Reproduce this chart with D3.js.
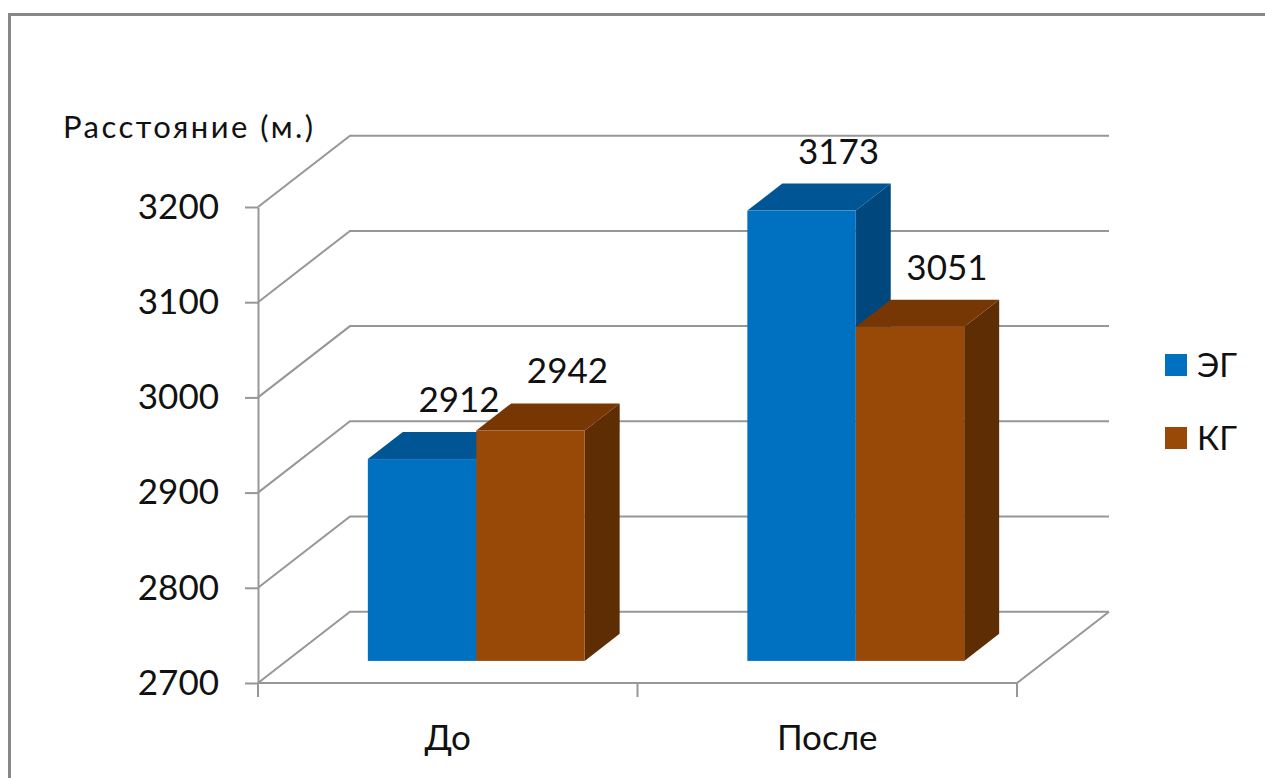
<!DOCTYPE html>
<html>
<head>
<meta charset="utf-8">
<script src="https://cdn.jsdelivr.net/npm/d3@7"></script>
<style>
  html, body { margin: 0; padding: 0; background: #fff; }
  svg { display: block; font-family: Lato, "Open Sans", sans-serif; }
</style>
</head>
<body>
<svg id="chart" width="1265" height="778"></svg>
<script>
// Data
const categories = ["До", "После"];
const seriesNames = ["ЭГ", "КГ"];
const valuesEG = [2912, 3173];
const valuesKG = [2942, 3051];
const yTicks = [2700, 2800, 2900, 3000, 3100, 3200];
const yTitle = "Расстояние (м.)";

const seriesValues = [valuesEG, valuesKG];
const faceColors = [
  { front: "#0070C0", top: "#005594", side: "#00477E" },
  { front: "#984807", top: "#773705", side: "#5F2D03" }
];

const svg = d3.select("#chart");
const W = 1265, H = 778;

// chart frame
svg.append("rect")
  .attr("x", 9.5).attr("y", 14.5)
  .attr("width", W + 20).attr("height", H + 20)
  .attr("fill", "none").attr("stroke", "#878787").attr("stroke-width", 3);

// 3D projection: depth fraction f (0 = front, 1 = back wall)
const DX = 92, DY = 71.3;
const proj = (x, y, f) => [x + f * DX, y - f * DY];

const y = d3.scaleLinear().domain([2700, 3200]).range([683, 207]);
const x0 = d3.scaleBand().domain(categories).range([258, 1017]).padding(0);
const x1 = d3.scaleBand().domain(seriesNames).range([0, x0.bandwidth()])
  .paddingInner(0).paddingOuter(0.75);

const gridColor = "#979797";

// back wall gridlines with the side-wall diagonal
const grid = svg.append("g");
yTicks.forEach(t => {
  const a = [258, y(t)];
  const b = proj(258, y(t), 1);
  const c = proj(1017, y(t), 1);
  grid.append("path")
    .attr("d", d3.line()([a, b, c]))
    .attr("fill", "none").attr("stroke", gridColor).attr("stroke-width", 2);
});

// floor front edge and right edge
const fl = y(2700);
grid.append("path")
  .attr("d", d3.line()([[258, fl], [1017, fl], proj(1017, fl, 1)]))
  .attr("fill", "none").attr("stroke", gridColor).attr("stroke-width", 2);

// category boundary ticks
const bounds = [258, x0("После"), 1017];
grid.selectAll(".ctick").data(bounds).enter().append("line")
  .attr("x1", d => d).attr("x2", d => d)
  .attr("y1", fl).attr("y2", fl + 14)
  .attr("stroke", gridColor).attr("stroke-width", 2);

// value axis
const yAxis = d3.axisLeft(y).tickValues(yTicks).tickSize(13).tickSizeOuter(0).tickPadding(26)
  .tickFormat(d3.format("d"));
const ya = svg.append("g").attr("transform", "translate(258,0)").call(yAxis);
ya.select(".domain").attr("stroke", gridColor).attr("stroke-width", 2);
ya.selectAll(".tick line").attr("stroke", gridColor).attr("stroke-width", 2);
ya.selectAll(".tick text")
  .attr("font-family", "Lato, 'Open Sans', sans-serif")
  .attr("font-size", 35).attr("fill", "#111");

// axis title
svg.append("text")
  .attr("x", 63).attr("y", 138)
  .attr("font-size", 31).attr("fill", "#111")
  .attr("textLength", 250).attr("lengthAdjust", "spacing")
  .text(yTitle);

// category labels
svg.selectAll(".cat").data(categories).enter().append("text")
  .attr("x", d => x0(d) + x0.bandwidth() / 2)
  .attr("y", 750)
  .attr("text-anchor", "middle")
  .attr("font-size", 35).attr("fill", "#111")
  .text(d => d);

// 3D bars
const F0 = 0.31, F1 = 0.69;
const bars = svg.append("g");
categories.forEach((cat, ci) => {
  seriesNames.forEach((s, si) => {
    const v = seriesValues[si][ci];
    const col = faceColors[si];
    const xl = x0(cat) + x1(s);
    const xr = xl + x1.bandwidth();
    const yb = y(2700), yt = y(v);
    const fl0 = proj(xl, yb, F0), fr0 = proj(xr, yb, F0);
    const tl0 = proj(xl, yt, F0), tr0 = proj(xr, yt, F0);
    const tl1 = proj(xl, yt, F1), tr1 = proj(xr, yt, F1);
    const br1 = proj(xr, yb, F1);
    // side
    bars.append("path").attr("d", d3.line()([fr0, tr0, tr1, br1]) + "Z").attr("fill", col.side);
    // top
    bars.append("path").attr("d", d3.line()([tl0, tr0, tr1, tl1]) + "Z").attr("fill", col.top);
    // front
    bars.append("rect")
      .attr("x", tl0[0]).attr("y", tl0[1])
      .attr("width", fr0[0] - fl0[0]).attr("height", fl0[1] - tl0[1])
      .attr("fill", col.front);
  });
});

// value labels above the bar tops
categories.forEach((cat, ci) => {
  seriesNames.forEach((s, si) => {
    const v = seriesValues[si][ci];
    const xc = x0(cat) + x1(s) + x1.bandwidth() / 2;
    const p = proj(xc, y(v), F1);
    svg.append("text")
      .attr("x", p[0] + 2).attr("y", p[1] - 20)
      .attr("text-anchor", "middle")
      .attr("font-size", 35).attr("fill", "#111")
      .text(v);
  });
});

// legend
const legend = svg.append("g");
seriesNames.forEach((s, i) => {
  const ly = 354 + i * 73;
  legend.append("rect")
    .attr("x", 1165).attr("y", ly).attr("width", 22).attr("height", 22)
    .attr("fill", faceColors[i].front);
  legend.append("text")
    .attr("x", 1197).attr("y", ly + 23)
    .attr("font-size", 33).attr("fill", "#111")
    .text(s);
});
</script>
</body>
</html>
